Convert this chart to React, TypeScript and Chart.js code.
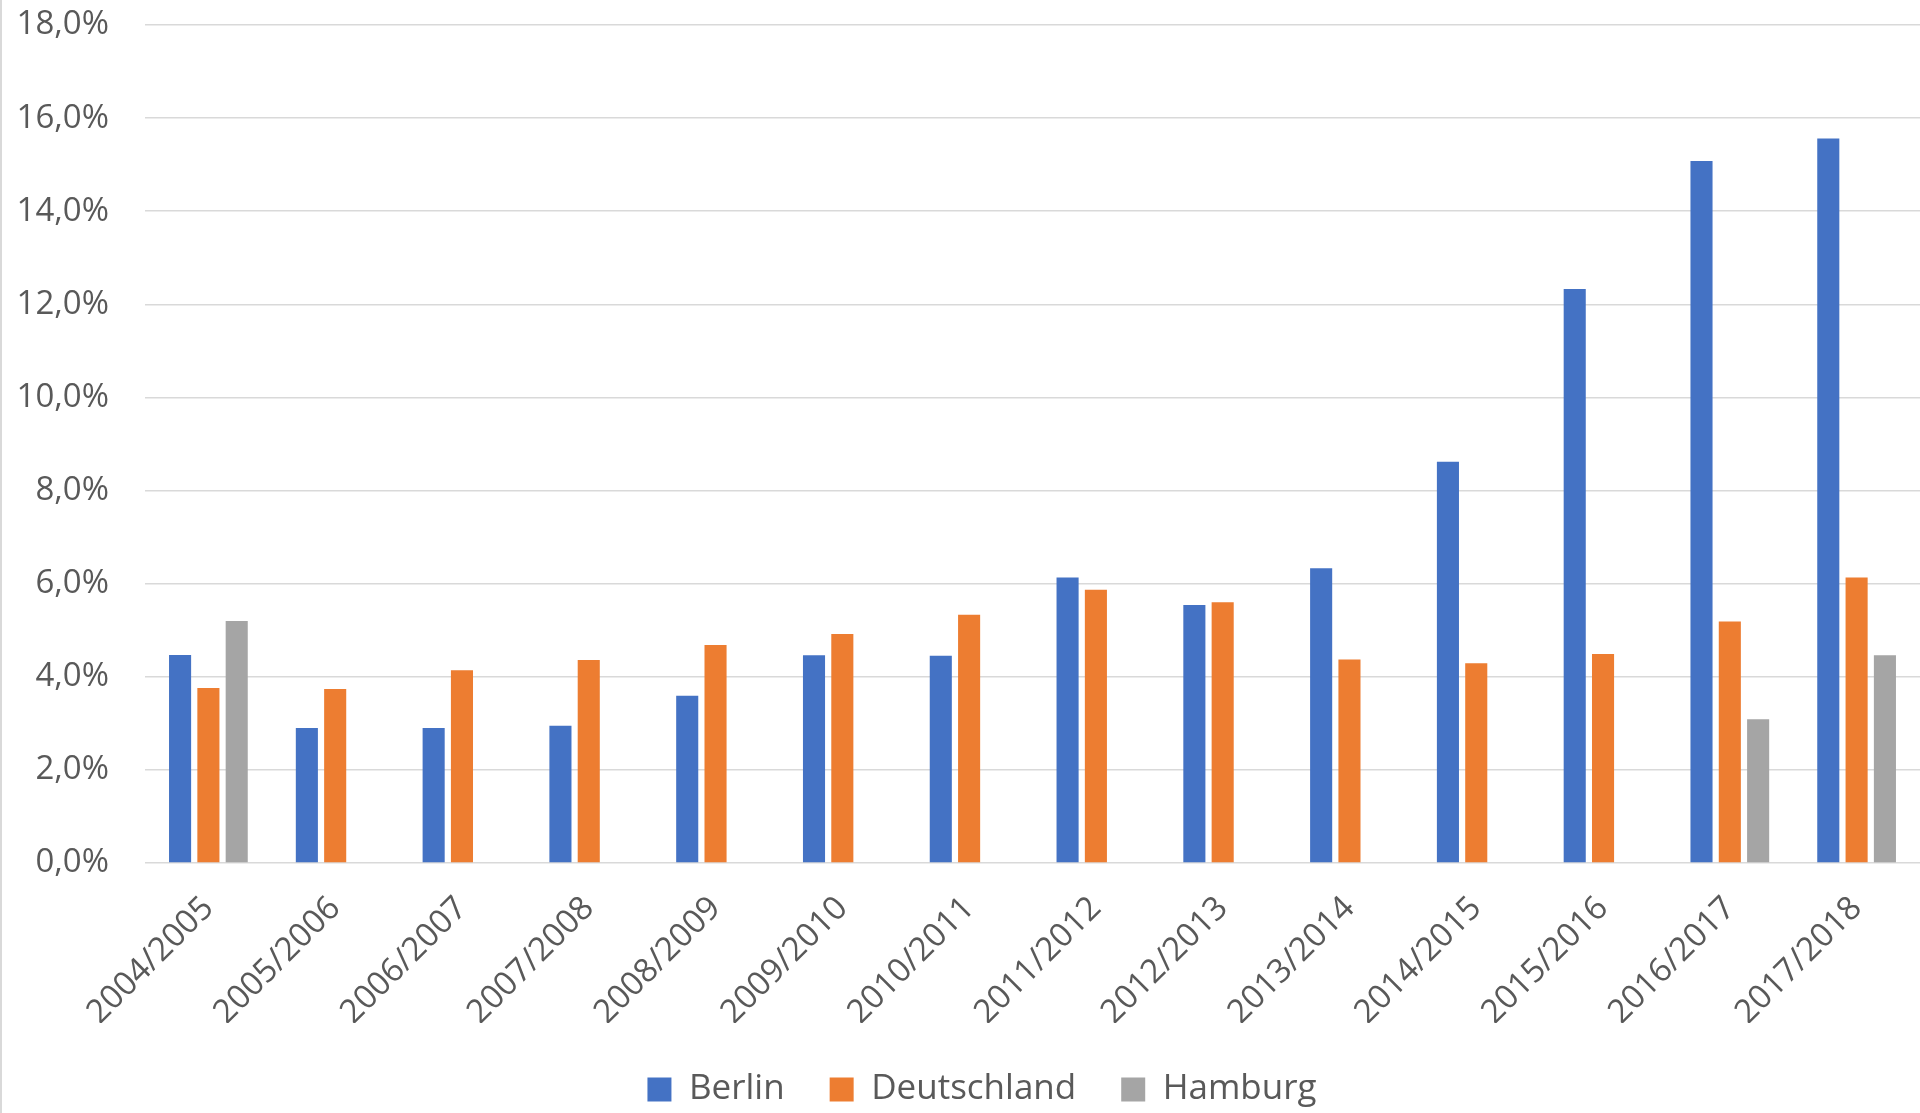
import React, { useEffect, useRef } from "react";
import { Chart, registerables } from "chart.js";

Chart.register(...registerables);

const categories = [
  "2004/2005", "2005/2006", "2006/2007", "2007/2008", "2008/2009", "2009/2010", "2010/2011",
  "2011/2012", "2012/2013", "2013/2014", "2014/2015", "2015/2016", "2016/2017", "2017/2018",
];
const berlin = [4.47, 2.9, 2.9, 2.95, 3.59, 4.46, 4.45, 6.13, 5.54, 6.33, 8.62, 12.33, 15.08, 15.56];
const deutschland = [3.76, 3.74, 4.14, 4.36, 4.68, 4.92, 5.33, 5.87, 5.6, 4.37, 4.29, 4.49, 5.19, 6.13];
const hamburg = [5.2, null, null, null, null, null, null, null, null, null, null, null, 3.09, 4.46];
const seriesNames = ["Berlin", "Deutschland", "Hamburg"];
const seriesColors = ["#4472C4", "#ED7D31", "#A5A5A5"];
const yMin = 0;
const yMax = 18;
const yStep = 2;

const FONT = "'Open Sans', 'Noto Sans', sans-serif";
const TEXT = "#595959";

const legendShift = {
  id: "legendShift",
  afterLayout(chart: any) {
    if (chart.legend) {
      chart.legend.left += 22;
      chart.legend.right += 22;
      chart.legend.top += 4;
      chart.legend.bottom += 4;
    }
  },
};

export default function App() {
  const ref = useRef<HTMLCanvasElement>(null);
  useEffect(() => {
    const chart = new Chart(ref.current!, {
      type: "bar",
      data: {
        labels: categories,
        datasets: [berlin, deutschland, hamburg].map((d, i) => ({
          label: seriesNames[i],
          data: d,
          backgroundColor: seriesColors[i],
          borderWidth: 0,
        })),
      },
      plugins: [legendShift],
      options: {
        animation: false,
        responsive: true,
        maintainAspectRatio: false,
        layout: { padding: { top: 25, left: 0, right: 0, bottom: 0 } },
        datasets: { bar: { categoryPercentage: 0.67, barPercentage: 0.78 } },
        plugins: {
          legend: {
            position: "bottom",
            labels: {
              boxWidth: 24,
              boxHeight: 24,
              padding: 45,
              color: TEXT,
              font: { family: FONT, size: 35 },
            },
          },
          tooltip: { enabled: false },
        },
        scales: {
          x: {
            grid: { display: false, drawTicks: false },
            border: { display: false },
            ticks: {
              minRotation: 45,
              maxRotation: 45,
              autoSkip: false,
              padding: 26,
              color: TEXT,
              font: { family: FONT, size: 33 },
            },
            afterFit: (s: any) => {
              s.height = 160;
            },
          },
          y: {
            min: yMin,
            max: yMax,
            ticks: {
              stepSize: yStep,
              padding: 36,
              color: TEXT,
              font: { family: FONT, size: 33 },
              callback: (v: any) => Number(v).toFixed(1).replace(".", ",") + "%",
            },
            grid: { color: "#D9D9D9", lineWidth: 1.6, drawTicks: false },
            border: { display: false },
            afterFit: (s: any) => {
              s.width = 145;
              s.paddingTop = 0;
              s.paddingBottom = 0;
            },
          },
        },
      },
    });
    return () => chart.destroy();
  }, []);

  return (
    <div style={{ position: "fixed", left: 0, top: 0, width: 1920, height: 1113, background: "#fff" }}>
      <canvas ref={ref} />
      <div style={{ position: "absolute", left: 0, top: 0, width: 1.5, height: 1113, background: "#D9D9D9" }} />
    </div>
  );
}
